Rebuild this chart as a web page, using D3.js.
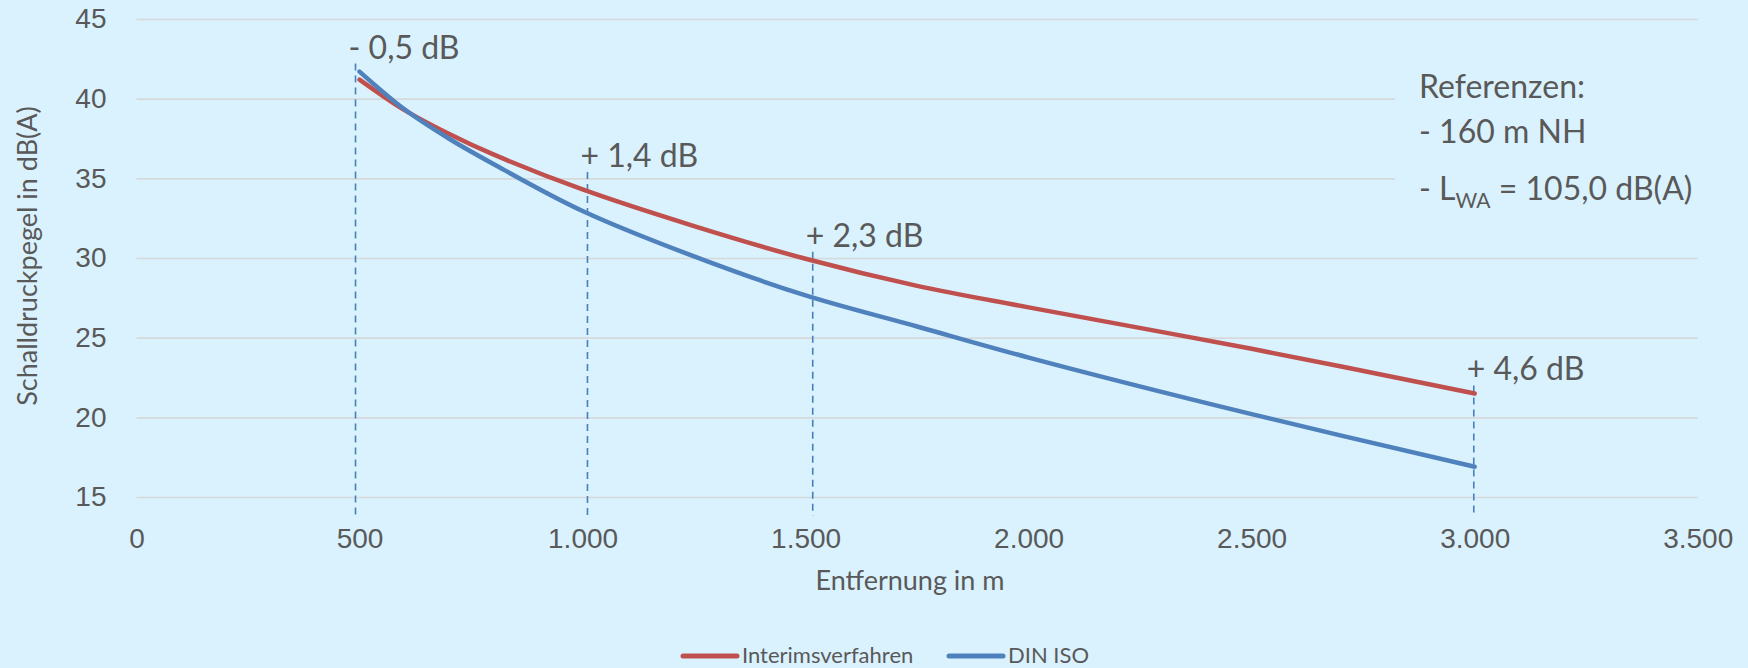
<!DOCTYPE html>
<html>
<head>
<meta charset="utf-8">
<script src="https://cdn.jsdelivr.net/npm/d3@7"></script>
<style>
  body { margin: 0; background: #daf2fe; }
  svg { display: block; font-family: Lato, "Open Sans", sans-serif; }
</style>
</head>
<body>
<script>
window.document.addEventListener('DOMContentLoaded', init, false);

// Entfernung in m
var distances = [500, 600, 700, 800, 1000, 1250, 1500, 1750, 2000, 2500, 3000];
var interim = [41.2, 39.3, 37.8, 36.5, 34.3, 32.0, 29.95, 28.25, 26.9, 24.3, 21.5];
var dinIso = [41.7, 39.35, 37.5, 35.9, 32.95, 30.1, 27.65, 25.7, 23.75, 20.2, 16.9];

var xTicks = [0, 500, 1000, 1500, 2000, 2500, 3000, 3500];
var yTicks = [15, 20, 25, 30, 35, 40, 45];

// Differenz-Markierungen
var markerX = [491, 1011, 1516, 2998];
var markerTop = [42.2, 35.4, 30.4, 22.0];
var markerLabels = ['- 0,5 dB', '+ 1,4 dB', '+ 2,3 dB', '+ 4,6 dB'];

var seriesNames = ['Interimsverfahren', 'DIN ISO'];
var seriesColors = ['#c0504d', '#4f81bd'];

var de = d3.formatLocale({decimal: ',', thousands: '.', grouping: [3], currency: ['', '€']});

function init() {
    var svg = d3.select('body').append('svg')
        .attr('width', 1748)
        .attr('height', 668);

    var x = d3.scaleLinear().domain([0, 3500]).range([136.5, 1697.7]);
    var y = d3.scaleLinear().domain([15, 45]).range([497, 19]);

    // y axis with gridlines
    var yAxis = svg.append('g')
        .attr('transform', `translate(${x(0)},0)`)
        .call(d3.axisLeft(y).tickValues(yTicks).tickSize(-(x(3500) - x(0))).tickPadding(30));
    yAxis.select('.domain').remove();
    yAxis.selectAll('line').attr('stroke', '#d6d9dc').attr('stroke-width', 1.6);
    yAxis.selectAll('text').attr('font-size', 28).attr('fill', '#595959')
        .attr('font-family', null);

    // x axis labels only
    var xAxis = svg.append('g')
        .attr('transform', `translate(0,${y(15)})`)
        .call(d3.axisBottom(x).tickValues(xTicks).tickSize(0).tickFormat(de.format(',')));
    xAxis.select('.domain').remove();
    xAxis.selectAll('text').attr('font-size', 28).attr('fill', '#595959')
        .attr('font-family', null).attr('y', 51).attr('dy', 0);

    // text box covering gridlines
    svg.append('rect')
        .attr('x', 1395).attr('y', 50).attr('width', 353).attr('height', 175)
        .attr('fill', '#daf2fe');

    var ref = svg.append('g').attr('fill', '#595959').attr('font-size', 32);
    ref.append('text').attr('x', 1419).attr('y', 98).text('Referenzen:');
    ref.append('text').attr('x', 1419).attr('y', 143).text('- 160 m NH');
    var lwa = ref.append('text').attr('x', 1419).attr('y', 200);
    lwa.append('tspan').text('- L');
    lwa.append('tspan').attr('font-size', 21).attr('dy', 8).text('WA');
    lwa.append('tspan').attr('dy', -8).text(' = 105,0 dB(A)');

    // dashed markers
    svg.selectAll('.marker')
        .data(markerX)
        .enter()
            .append('line')
            .attr('class', 'marker')
            .attr('x1', (d) => x(d)).attr('x2', (d) => x(d))
            .attr('y1', (d, i) => y(markerTop[i]))
            .attr('y2', y(13.8))
            .attr('stroke', '#4a7ebb')
            .attr('stroke-width', 1.6)
            .attr('stroke-dasharray', '7,5');

    // series lines
    var line = d3.line()
        .x((d, i) => x(distances[i]))
        .y((d) => y(d))
        .curve(d3.curveCatmullRom.alpha(0.5));

    [interim, dinIso].forEach(function(values, i) {
        svg.append('path')
            .attr('d', line(values))
            .attr('fill', 'none')
            .attr('stroke', seriesColors[i])
            .attr('stroke-width', 4.5)
            .attr('stroke-linecap', 'round');
    });

    svg.selectAll('.marker-label')
        .data(markerLabels)
        .enter()
            .append('text')
            .attr('class', 'marker-label')
            .attr('x', (d, i) => x(markerX[i]) - 7)
            .attr('y', (d, i) => y(markerTop[i]) - 5)
            .attr('font-size', 32)
            .attr('fill', '#595959')
            .text((d) => d);

    // axis titles
    svg.append('text')
        .attr('x', 910).attr('y', 590)
        .attr('text-anchor', 'middle')
        .attr('font-size', 27)
        .attr('fill', '#595959')
        .text('Entfernung in m');

    svg.append('text')
        .attr('transform', 'translate(37,256) rotate(-90)')
        .attr('text-anchor', 'middle')
        .attr('font-size', 27)
        .attr('fill', '#595959')
        .text('Schalldruckpegel in dB(A)');

    // legend
    var legendX = [683, 949];
    var legend = svg.selectAll('.legend')
        .data(seriesNames)
        .enter()
            .append('g')
            .attr('class', 'legend')
            .attr('transform', (d, i) => `translate(${legendX[i]},656)`);
    legend.append('line')
        .attr('x1', 0).attr('x2', 54)
        .attr('stroke', (d, i) => seriesColors[i])
        .attr('stroke-width', 5)
        .attr('stroke-linecap', 'round');
    legend.append('text')
        .attr('x', 59).attr('y', 7)
        .attr('font-size', 22)
        .attr('fill', '#595959')
        .text((d) => d);
}
</script>
</body>
</html>
